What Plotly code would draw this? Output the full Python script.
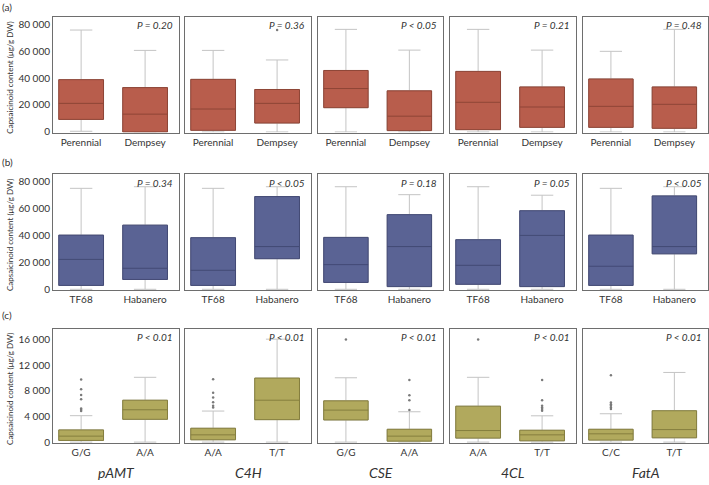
import plotly.graph_objects as go

W, H = 709, 485

genes = ["pAMT", "C4H", "CSE", "4CL", "FatA"]

# Row (a): Perennial vs Dempsey
cats_a = ["Perennial", "Dempsey"]
pvals_a = ["P = 0.20", "P = 0.36", "P < 0.05", "P = 0.21", "P = 0.48"]
a_lower = [[500, 0], [0, 0], [0, 0], [0, 0], [0, 0]]
a_q1 = [[9300, 0], [1200, 6600], [18000, 1000], [1700, 3400], [3400, 2700]]
a_median = [[21200, 13200], [17000, 21200], [32200, 11700], [22000, 18500], [19000, 20500]]
a_q3 = [[38800, 32900], [39000, 31500], [45600, 30500], [44900, 33400], [39300, 33400]]
a_upper = [[75600, 60500], [60500, 53400], [76100, 60700], [76100, 60700], [59800, 76100]]
a_outliers = [[[], []], [[], [75600]], [[], []], [[], []], [[], []]]

# Row (b): TF68 vs Habanero
cats_b = ["TF68", "Habanero"]
pvals_b = ["P = 0.34", "P < 0.05", "P = 0.18", "P = 0.05", "P < 0.05"]
b_lower = [[0, 0], [0, 0], [0, 0], [0, 0], [0, 0]]
b_q1 = [[2900, 7300], [2900, 22700], [5100, 2000], [3700, 2000], [2900, 26300]]
b_median = [[22200, 15600], [14100, 31700], [18300, 31700], [17800, 40000], [17100, 31700]]
b_q3 = [[40200, 47600], [38300, 68800], [38500, 55400], [36800, 58300], [40200, 69300]]
b_upper = [[74900, 76100], [74900, 76100], [76100, 70200], [76100, 69800], [74900, 76100]]
b_outliers = [[[], []], [[], []], [[], []], [[], []], [[], []]]

# Row (c): genotypes
cats_c = [["G/G", "A/A"], ["A/A", "T/T"], ["G/G", "A/A"], ["A/A", "T/T"], ["C/C", "T/T"]]
pvals_c = ["P < 0.01", "P < 0.01", "P < 0.01", "P < 0.01", "P < 0.01"]
c_lower = [[0, 0], [0, 0], [0, 0], [0, 0], [0, 0]]
c_q1 = [[260, 3550], [360, 3500], [3450, 150], [620, 200], [310, 670]]
c_median = [[930, 5040], [1130, 6530], [4990, 930], [1800, 1130], [1290, 1950]]
c_q3 = [[1900, 6530], [2160, 9980], [6430, 2000], [5600, 1850], [2000, 4890]]
c_upper = [[4120, 10100], [4840, 16050], [10030, 4730], [10100, 4100], [4420, 10860]]
c_outliers = [
    [[9780, 8240, 7360, 6700, 5250, 5050, 4850], []],
    [[9800, 7700, 6950, 6200, 5660, 5400], []],
    [[16000], [9670, 7300, 6530, 4990]],
    [[16000], [9670, 6530, 5660, 5400, 5150, 4890]],
    [[10440, 6170, 5900, 5660, 5400, 5150], []],
]

y_ticks_ab = [0, 20000, 40000, 60000, 80000]
y_ticks_c = [0, 4000, 8000, 12000, 16000]
row_tags = ["(a)", "(b)", "(c)"]
y_title = "Capsaicinoid content (μg/g DW)"

rows = [
    dict(cats=[cats_a] * 5, p=pvals_a, lo=a_lower, q1=a_q1, med=a_median, q3=a_q3, up=a_upper,
         out=a_outliers, fill="#b85d4c", edge="#8e4536", ticks=y_ticks_ab, rng=[-500, 85400]),
    dict(cats=[cats_b] * 5, p=pvals_b, lo=b_lower, q1=b_q1, med=b_median, q3=b_q3, up=b_upper,
         out=b_outliers, fill="#5a6394", edge="#434a75", ticks=y_ticks_ab, rng=[-500, 85400]),
    dict(cats=cats_c, p=pvals_c, lo=c_lower, q1=c_q1, med=c_median, q3=c_q3, up=c_upper,
         out=c_outliers, fill="#b1a95d", edge="#857e3e", ticks=y_ticks_c, rng=[-200, 17700]),
]

# layout geometry (pixels)
panel_x = [(53, 179), (185, 311), (318, 443), (450, 576), (583, 708)]
panel_y = [(17, 134), (176, 293), (332, 448)]
tag_y = [7, 164, 318]
gene_y = 477

FONT = "Lato"
TXT = "#333333"

fig = go.Figure()
layout = dict(width=W, height=H, margin=dict(l=0, r=0, t=0, b=0),
              paper_bgcolor="white", plot_bgcolor="white", showlegend=False,
              separators=". ", boxmode="overlay",
              font=dict(family=FONT, size=10, color=TXT))
annotations = []

for r, row in enumerate(rows):
    for c in range(5):
        idx = r * 5 + c + 1
        xa = "x" if idx == 1 else f"x{idx}"
        ya = "y" if idx == 1 else f"y{idx}"
        cats = row["cats"][c]
        # whiskers (gray)
        fig.add_trace(go.Box(
            x=cats, q1=row["q1"][c], median=row["med"][c], q3=row["q3"][c],
            lowerfence=row["lo"][c], upperfence=row["up"][c],
            fillcolor=row["fill"], line=dict(color="#c4c4c4", width=1),
            whiskerwidth=0.5, width=0.7, boxpoints=False, hoverinfo="skip",
            xaxis=xa, yaxis=ya))
        # box body + median (darker outline)
        fig.add_trace(go.Box(
            x=cats, q1=row["q1"][c], median=row["med"][c], q3=row["q3"][c],
            lowerfence=row["q1"][c], upperfence=row["q3"][c],
            fillcolor=row["fill"], line=dict(color=row["edge"], width=1),
            whiskerwidth=0, width=0.7, boxpoints=False, hoverinfo="skip",
            xaxis=xa, yaxis=ya))
        # outliers
        ox, oy = [], []
        for k, cat in enumerate(cats):
            for v in row["out"][c][k]:
                ox.append(cat)
                oy.append(v)
        if oy:
            fig.add_trace(go.Scatter(x=ox, y=oy, mode="markers",
                                     marker=dict(size=2.5, color="#7a7a7a"),
                                     hoverinfo="skip", xaxis=xa, yaxis=ya))
        x0, x1 = panel_x[c]
        y0, y1 = panel_y[r]
        key = "" if idx == 1 else str(idx)
        layout["xaxis" + key] = dict(
            domain=[x0 / W, x1 / W], anchor=ya, type="category",
            categoryorder="array", categoryarray=cats,
            range=[-0.44, 1.53], showline=True, mirror=True, linecolor="#6e6e6e",
            linewidth=1, ticks="", showgrid=False, zeroline=False,
            tickfont=dict(size=10, color=TXT, family=FONT))
        layout["yaxis" + key] = dict(
            domain=[1 - y1 / H, 1 - y0 / H], anchor=xa, range=row["rng"],
            tickvals=row["ticks"], tickformat=",d", showticklabels=(c == 0),
            showline=True, mirror=True, linecolor="#6e6e6e", linewidth=1,
            ticks="", showgrid=False, zeroline=False,
            tickfont=dict(size=10, color=TXT, family=FONT))
        annotations.append(dict(
            text=row["p"][c], xref=f"{xa} domain", yref=f"{ya} domain",
            x=0.97, y=0.995, xanchor="right", yanchor="top", showarrow=False,
            font=dict(size=10, color=TXT, family=FONT)))
    # row tag
    annotations.append(dict(text=row_tags[r], xref="paper", yref="paper",
                            x=0, y=1 - tag_y[r] / H, xanchor="left", yanchor="middle",
                            showarrow=False, font=dict(size=10, color=TXT, family=FONT)))
    # y axis title
    annotations.append(dict(text=y_title, xref="paper", yref="paper",
                            x=10 / W, y=1 - ((panel_y[r][0] + panel_y[r][1]) / 2 + 3) / H,
                            xanchor="center", yanchor="middle", textangle=-90,
                            showarrow=False, font=dict(size=8, color=TXT, family=FONT)))

# gene labels
for c, g in enumerate(genes):
    annotations.append(dict(text=f"<i>{g}</i>", xref="paper", yref="paper",
                            x=(panel_x[c][0] + panel_x[c][1]) / 2 / W, y=1 - gene_y / H,
                            xanchor="center", yanchor="middle", showarrow=False,
                            font=dict(size=14, color=TXT, family=FONT)))

# italicize p values
for a in annotations:
    if a["text"].startswith("P "):
        a["text"] = f"<i>{a['text']}</i>"

layout["annotations"] = annotations
fig.update_layout(**layout)
fig.write_html("out.html", config={"displayModeBar": False},
               post_script="document.body.style.margin='0px';")
